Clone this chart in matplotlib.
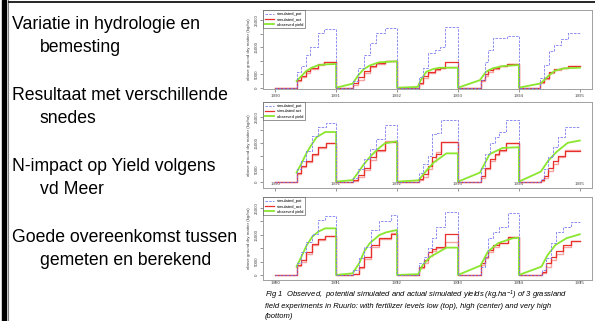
import matplotlib
matplotlib.use("Agg")
import matplotlib.pyplot as plt
from matplotlib.lines import Line2D
from matplotlib.patches import Rectangle

plt.rcParams["font.family"] = ["Liberation Sans", "DejaVu Sans"]
plt.rcParams["mathtext.fontset"] = "custom"
plt.rcParams["mathtext.it"] = "Liberation Sans:italic"
plt.rcParams["mathtext.rm"] = "Liberation Sans:italic"

years = [1990, 1991, 1992, 1993, 1994, 1995]
year_labels = ["1990", "1991", "1992", "1993", "1994", "1995"]
y_ticks = [0, 5000, 10000, 15000, 20000, 25000]
y_tick_labels = ["0", "5000", "", "15000", "", "25000"]

bullets = [
    ("Variatie in hydrologie en", "bemesting"),
    ("Resultaat met verschillende", "snedes"),
    ("N-impact op Yield volgens", "vd Meer"),
    ("Goede overeenkomst tussen", "gemeten en berekend"),
]
caption_lines = [
    "Fig 1  Observed,  potential simulated and actual simulated yields (kg.ha$^{-1}$) of 3 grassland",
    "field experiments in Ruurlo: with fertilizer levels low (top), high (center) and very high",
    "(bottom)",
]

# cut moments (fraction of the year) and cumulative yields, kg/ha
top_cuts = [[0.35, 0.42, 0.50, 0.57, 0.70, 0.80],
            [0.28, 0.36, 0.45, 0.55, 0.66, 0.80],
            [0.36, 0.43, 0.51, 0.62, 0.70, 0.78],
            [0.37, 0.44, 0.50, 0.58, 0.68, 0.80],
            [0.35, 0.42, 0.49, 0.57, 0.69, 0.80]]
top_pot = [[5900, 8000, 12100, 15200, 20100, 21600],
           [2500, 7200, 12100, 16700, 20100, 22000],
           [4100, 7200, 12700, 14000, 15000, 22600],
           [2800, 9600, 14000, 18300, 18600, 19000],
           [3500, 8400, 13600, 16000, 17900, 20100]]
top_act = [[2800, 4300, 6300, 7400, 8800, 9500],
           [1600, 3800, 6300, 8000, 9000, 9900],
           [1900, 4300, 5900, 6800, 7400, 9600],
           [2800, 4900, 6500, 7400, 8000, 8900],
           [2200, 3500, 5900, 6900, 7400, 8000]]
top_act2 = [[2300, 3800, 5600, 7000, 8400, 9500],
            [1000, 2800, 5500, 7600, 8800, 9900],
            [1200, 3500, 5300, 6500, 7200, 7800],
            [2300, 4300, 6000, 7000, 8000, 8900],
            [1900, 3200, 5500, 6500, 7200, 8000]]
top_obs_t = [[0.35, 0.43, 0.51, 0.60, 0.70, 0.84, 1.0],
             [0.0, 0.27, 0.36, 0.45, 0.55, 0.70, 1.0],
             [0.0, 0.34, 0.39, 0.48, 0.59, 0.70, 1.0],
             [0.0, 0.36, 0.46, 0.57, 0.73, 1.0],
             [0.0, 0.36, 0.48, 0.59, 0.75, 1.0]]
top_obs = [[2500, 4300, 6200, 7400, 8300, 8650, 8800],
           [0, 1500, 4500, 6800, 8200, 9400, 9800],
           [0, 300, 2800, 5900, 6900, 7400, 7400],
           [0, 2800, 5900, 7200, 8000, 8400],
           [0, 1600, 4300, 6300, 7200, 7400]]

mid_cuts = [[0.35, 0.43, 0.50, 0.60, 0.70, 0.83],
            [0.27, 0.36, 0.45, 0.55, 0.66, 0.80],
            [0.36, 0.42, 0.51, 0.57, 0.64, 0.72],
            [0.37, 0.44, 0.52, 0.60, 0.68, 0.79],
            [0.37, 0.42, 0.48, 0.56, 0.64, 0.75]]
mid_pot = [[4800, 8100, 12100, 17900, 21200, 22800],
           [1600, 4800, 8800, 12700, 16600, 21900],
           [3500, 6800, 10100, 18600, 18900, 23800],
           [5500, 10700, 14900, 17300, 19300, 24100],
           [900, 4800, 9400, 13400, 17300, 21200]]
mid_act = [[3500, 6200, 8100, 10700, 13600, 15100],
           [500, 2600, 5500, 9400, 12300, 15300],
           [900, 2900, 6200, 9400, 10700, 15300],
           [2200, 5500, 8800, 10700, 12300, 14900],
           [500, 2200, 5500, 7900, 10100, 12100]]
mid_act2 = [[3000, 5700, 7600, 10200, 13100, 15100],
            [400, 1800, 4600, 8600, 12000, 15700],
            [600, 1800, 4800, 8000, 11500, 15300],
            [1500, 4800, 8000, 10300, 12000, 14900],
            [300, 1500, 4100, 6800, 9600, 12300]]
mid_obs_t = [[0.35, 0.44, 0.52, 0.60, 0.68, 0.82, 1.0],
             [0.0, 0.27, 0.36, 0.46, 0.57, 0.68, 0.80, 1.0],
             [0.0, 0.35, 0.48, 0.60, 0.81, 1.0],
             [0.0, 0.36, 0.52, 0.73, 1.0],
             [0.0, 0.36, 0.48, 0.61, 0.80, 1.0]]
mid_obs = [[3500, 7500, 11400, 14500, 17300, 19300, 19300],
           [0, 600, 3500, 6900, 10000, 12600, 14900, 15700],
           [0, 500, 4200, 7400, 11000, 11000],
           [0, 3500, 10700, 13100, 13400],
           [0, 3900, 8100, 11400, 15100, 16000]]

bot_cuts = [[0.35, 0.43, 0.50, 0.60, 0.70, 0.82],
            [0.27, 0.37, 0.46, 0.57, 0.70, 0.90],
            [0.36, 0.44, 0.50, 0.57, 0.64, 0.78],
            [0.37, 0.44, 0.50, 0.57, 0.68, 0.82],
            [0.38, 0.45, 0.53, 0.61, 0.72, 0.86]]
bot_pot = [[4400, 8500, 12400, 15200, 20500, 22100],
           [1900, 6200, 10600, 16800, 20200, 22400],
           [4400, 6800, 10000, 13700, 18000, 23400],
           [3100, 6800, 13700, 16200, 18000, 23000],
           [1900, 6200, 11800, 16200, 18000, 19900]]
bot_act = [[3700, 5600, 8500, 11400, 13300, 14700],
           [250, 3100, 6800, 11200, 13900, 15200],
           [3100, 5600, 8700, 9600, 10600, 15200],
           [4400, 6800, 9300, 11200, 12100, 14300],
           [1200, 4400, 6800, 9000, 11200, 12800]]
bot_act2 = [[3200, 5000, 8000, 11000, 13000, 14700],
            [200, 2500, 6000, 10500, 13500, 15500],
            [2500, 4500, 7000, 9000, 10000, 12400],
            [3700, 6200, 8700, 10600, 11800, 14000],
            [600, 3100, 5600, 8000, 10600, 12800]]
bot_obs_t = [[0.35, 0.43, 0.52, 0.61, 0.71, 0.82, 1.0],
             [0.0, 0.27, 0.38, 0.46, 0.55, 0.71, 0.82, 1.0],
             [0.0, 0.35, 0.42, 0.55, 0.81, 1.0],
             [0.0, 0.37, 0.49, 0.66, 0.90, 1.0],
             [0.0, 0.37, 0.47, 0.60, 0.78, 1.0]]
bot_obs = [[3100, 6800, 11200, 14300, 16200, 17400, 17400],
           [0, 600, 4400, 8700, 11800, 14900, 15900, 16800],
           [0, 300, 3700, 6800, 10200, 10200],
           [0, 3500, 8700, 11900, 13700, 13900],
           [0, 3100, 7400, 11200, 13700, 15200]]


def step_series(cuts, vals):
    xs, ys = [], []
    for yr, c, v in zip(years, cuts, vals):
        xs += [yr] + [yr + f for f in c] + [yr + 1]
        ys += [0] + list(v) + [v[-1]]
    return xs, ys


def obs_series(ts, vals):
    xs, ys = [], []
    for yr, t, v in zip(years, ts, vals):
        xs += [yr + f for f in t]
        ys += list(v)
    return xs, ys


W, H = 595, 321


def px_box(x0, y0, x1, y1):
    return [x0 / W, 1 - y1 / H, (x1 - x0) / W, (y1 - y0) / H]


fig = plt.figure(figsize=(5.95, 3.21), dpi=100)

# slide decoration
fig.add_artist(Rectangle((2 / W, 0), 4 / W, 1, color="black", transform=fig.transFigure))
fig.add_artist(Line2D([8 / W, 8 / W], [0, 1], color="#808080", lw=0.8, transform=fig.transFigure))
fig.add_artist(Line2D([9 / W, 1], [1 - 1.5 / H] * 2, color="black", lw=1.2, transform=fig.transFigure))

base_y = [29, 100, 171, 242]
for (l1, l2), by in zip(bullets, base_y):
    fig.text(12 / W, 1 - by / H, l1, fontsize=12.7, va="baseline")
    fig.text(40 / W, 1 - (by + 23) / H, l2, fontsize=12.7, va="baseline")

panels = [
    (px_box(263, 10, 592, 89), (-480, 28800), top_cuts, top_pot, top_act, top_act2, top_obs_t, top_obs,
     "simulated_act", 1.5),
    (px_box(263, 102, 592, 188), (-2480, 31000), mid_cuts, mid_pot, mid_act, mid_act2, mid_obs_t, mid_obs,
     "simulated act", -6.5),
    (px_box(263, 197, 592, 280), (-1880, 29100), bot_cuts, bot_pot, bot_act, bot_act2, bot_obs_t, bot_obs,
     "simulated_act", -1.2),
]

for box, ylim, cuts, pot, act, act2, obs_t, obs, act_name, xpad in panels:
    ax = fig.add_axes(box)
    ax.plot(*step_series(cuts, act2), drawstyle="steps-post", color="#f5a3a3", lw=1.0)
    ax.plot(*step_series(cuts, act), drawstyle="steps-post", color="#e8302a", lw=0.9, label=act_name)
    ax.plot(*obs_series(obs_t, obs), color="#8ae62e", lw=1.3, label="observed yield")
    ax.plot(*step_series(cuts, pot), drawstyle="steps-post", color="#7b7bf0", lw=0.6,
            dashes=(3, 1.5), label="simulated_pot")
    ax.set_xlim(1989.8, 1995.2)
    ax.set_ylim(*ylim)
    ax.set_xticks(years)
    ax.set_xticklabels(year_labels)
    ax.set_yticks(y_ticks)
    ax.set_yticklabels(y_tick_labels, rotation=90, va="center")
    ax.tick_params(axis="both", labelsize=3.2, length=2, width=0.4, colors="#444444", pad=1)
    ax.tick_params(axis="x", pad=xpad)
    for s in ax.spines.values():
        s.set_color("#a0a0a0")
        s.set_linewidth(0.7)
    ax.set_ylabel("above ground dry matter (kg/ha)", fontsize=3.2, color="#444444", labelpad=3)
    h, lab = ax.get_legend_handles_labels()
    order = [2, 0, 1]
    leg = ax.legend([h[i] for i in order], [lab[i] for i in order], loc="upper left", fontsize=3.0,
                    frameon=True, fancybox=False, edgecolor="#444444", borderaxespad=0.1,
                    handlelength=2.2, labelspacing=0.3, borderpad=0.4, handletextpad=0.6)
    leg.get_frame().set_linewidth(0.5)

for line, cy in zip(caption_lines, [295, 306, 317]):
    fig.text(265 / W, 1 - cy / H, line, fontsize=5.5, fontstyle="italic", va="center")

fig.savefig("out.png", dpi=100)
